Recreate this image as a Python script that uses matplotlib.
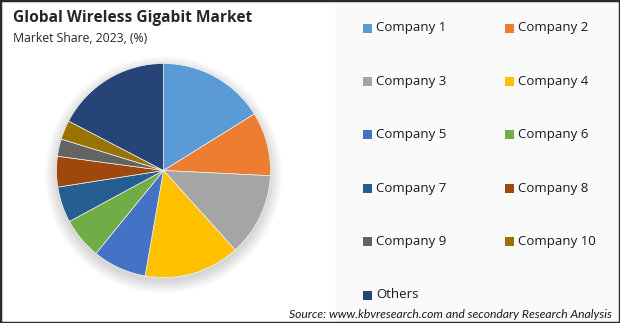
import matplotlib
matplotlib.use("Agg")
import matplotlib.pyplot as plt
from matplotlib.patches import Rectangle, Circle

labels = ["Company 1", "Company 2", "Company 3", "Company 4", "Company 5",
          "Company 6", "Company 7", "Company 8", "Company 9", "Company 10", "Others"]
shares = [16.1, 9.6, 12.5, 14.4, 8.1, 6.2, 5.4, 4.6, 2.6, 2.9, 17.3]
colors = ["#5B9BD5", "#ED7D31", "#A5A5A5", "#FFC000", "#4472C4", "#70AD47",
          "#255E91", "#9E480E", "#636363", "#997300", "#264478"]

title = "Global Wireless Gigabit Market"
subtitle = "Market Share, 2023, (%)"
source = "Source: www.kbvresearch.com and secondary Research Analysis"

W, H = 620, 323
fig = plt.figure(figsize=(W / 100, H / 100), dpi=100)
fig.patch.set_facecolor("white")

# legend panel background
fig.patches.append(Rectangle((335 / W, 0), (W - 335) / W, 1, transform=fig.transFigure,
                             facecolor="#fafafa", edgecolor="none", zorder=0))

# pie axes
cx, cy, r = 163.5, 170.5, 107
ax = fig.add_axes([(cx - r) / W, (H - cy - r) / H, 2 * r / W, 2 * r / H])
ax.set_xlim(-1, 1)
ax.set_ylim(-1, 1)
ax.set_aspect("equal")
ax.axis("off")
# soft shadow
for k in range(10):
    ax.add_patch(Circle((0.0, -0.04), 1.0 + 0.012 * k, facecolor="black",
                        alpha=0.016, edgecolor="none", zorder=0, clip_on=False))
ax.pie(shares, colors=colors, startangle=90, counterclock=False, radius=1.0,
       wedgeprops=dict(edgecolor="#f2f2f2", linewidth=0.5, zorder=2))
ax.set_xlim(-1, 1)
ax.set_ylim(-1, 1)

# titles
fig.text(13 / W, 1 - 18 / H, title, fontsize=11.2, fontweight="bold",
         family="Open Sans", color="#262626", va="center", ha="left")
fig.text(13 / W, 1 - 38 / H, subtitle, fontsize=8.8, family="Open Sans",
         color="#262626", va="center", ha="left")

# legend (row-wise, two columns)
sq = 9
for i, (lab, col) in enumerate(zip(labels, colors)):
    row, c = divmod(i, 2)
    x0 = 363 + c * 142
    y0 = 28 + row * 53.4
    fig.patches.append(Rectangle((x0 / W, 1 - (y0 + sq / 2) / H), sq / W, sq / H,
                                 transform=fig.transFigure, facecolor=col,
                                 edgecolor="none", zorder=3))
    fig.text((x0 + 13) / W, 1 - y0 / H, lab, fontsize=9.5, family="Open Sans",
             color="#1a1a1a", va="center", ha="left")

fig.text(612 / W, 1 - 314 / H, source, fontsize=8.7, family="Lato", style="italic",
         color="#1a1a1a", va="center", ha="right")

# outer frame
fig.patches.append(Rectangle((0, 0), 1, 1, transform=fig.transFigure, facecolor="none",
                             edgecolor="#2b2b2b", linewidth=2.5, zorder=10))

fig.savefig("out.png", dpi=100)
